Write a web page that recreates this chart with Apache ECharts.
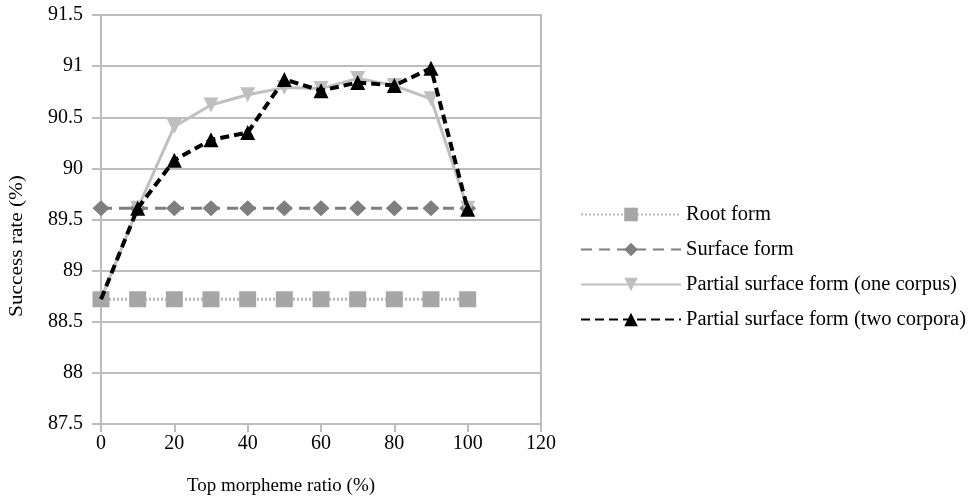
<!DOCTYPE html>
<html>
<head>
<meta charset="utf-8">
<script src="https://cdn.jsdelivr.net/npm/echarts@6/dist/echarts.min.js"></script>
<style>
html,body{margin:0;padding:0;background:#fff;}
#chart{width:970px;height:499px;}
</style>
</head>
<body>
<div id="chart"></div>
<script>
var xValues = [0, 10, 20, 30, 40, 50, 60, 70, 80, 90, 100];
var rootForm = [88.72, 88.72, 88.72, 88.72, 88.72, 88.72, 88.72, 88.72, 88.72, 88.72, 88.72];
var surfaceForm = [89.61, 89.61, 89.61, 89.61, 89.61, 89.61, 89.61, 89.61, 89.61, 89.61, 89.61];
var oneCorpus = [88.72, 89.61, 90.41, 90.62, 90.72, 90.79, 90.78, 90.88, 90.81, 90.68, 89.61];
var twoCorpora = [88.72, 89.61, 90.08, 90.28, 90.35, 90.87, 90.76, 90.84, 90.81, 90.98, 89.6];
var seriesNames = ['Root form', 'Surface form', 'Partial surface form (one corpus)', 'Partial surface form (two corpora)'];
var xAxisName = 'Top morpheme ratio (%)';
var yAxisName = 'Success rate (%)';

function pairs(ys, hideFirst) {
  return xValues.map(function (x, i) {
    if (hideFirst && i === 0) return { value: [x, ys[i]], symbol: 'none' };
    return [x, ys[i]];
  });
}

var font = '"Liberation Serif", "DejaVu Serif", serif';
var chart = echarts.init(document.getElementById('chart'), null, { renderer: 'canvas' });
chart.setOption({
  animation: false,
  backgroundColor: '#fff',
  textStyle: { fontFamily: font },
  grid: { left: 101, right: 429, top: 15, bottom: 75, show: true, borderColor: '#bdbdbd', borderWidth: 2, containLabel: false },
  legend: {
    orient: 'vertical',
    left: 575,
    top: 199,
    itemWidth: 100,
    itemHeight: 17,
    itemGap: 14,
    textStyle: { fontFamily: font, fontSize: 20.5, color: '#000' },
    data: seriesNames
  },
  xAxis: {
    type: 'value', min: 0, max: 120, interval: 20,
    axisLine: { show: true, lineStyle: { color: '#bdbdbd', width: 2 } },
    axisTick: { show: true, length: 8, lineStyle: { color: '#bdbdbd', width: 2 } },
    axisLabel: { fontFamily: font, fontSize: 20, color: '#000', margin: 10 },
    splitLine: { show: false }
  },
  yAxis: {
    type: 'value', min: 87.5, max: 91.5, interval: 0.5,
    axisLine: { show: true, lineStyle: { color: '#bdbdbd', width: 2 } },
    axisTick: { show: true, length: 9, lineStyle: { color: '#bdbdbd', width: 2 } },
    axisLabel: { fontFamily: font, fontSize: 20, color: '#000', margin: 18 },
    splitLine: { show: true, lineStyle: { color: '#bdbdbd', width: 2 } }
  },
  graphic: [
    { type: 'text', x: 281, y: 486, style: { text: xAxisName, font: '19px ' + font, fill: '#000', align: 'center', verticalAlign: 'middle' } },
    { type: 'text', x: 17, y: 246, rotation: Math.PI / 2, scaleX: 1.12, style: { text: yAxisName, font: '19px ' + font, fill: '#000', align: 'center', verticalAlign: 'middle' } }
  ],
  series: [
    {
      name: seriesNames[0], type: 'line', data: pairs(rootForm, false),
      symbol: 'rect', symbolSize: [17, 16],
      lineStyle: { color: '#b5b5b5', width: 3, type: [2, 2] },
      itemStyle: { color: '#a6a6a6' }, z: 2
    },
    {
      name: seriesNames[1], type: 'line', data: pairs(surfaceForm, false),
      symbol: 'diamond', symbolSize: [17, 16],
      lineStyle: { color: '#7f7f7f', width: 3, type: [11, 7] },
      itemStyle: { color: '#7f7f7f' }, z: 3
    },
    {
      name: seriesNames[2], type: 'line', data: pairs(oneCorpus, true),
      symbol: 'triangle', symbolRotate: 180, symbolSize: 15,
      lineStyle: { color: '#bfbfbf', width: 3 },
      itemStyle: { color: '#bfbfbf' }, z: 4
    },
    {
      name: seriesNames[3], type: 'line', data: pairs(twoCorpora, true),
      symbol: 'triangle', symbolSize: 15,
      lineStyle: { color: '#000', width: 4, type: [9, 5] },
      itemStyle: { color: '#000' }, z: 5
    }
  ]
});
</script>
</body>
</html>
